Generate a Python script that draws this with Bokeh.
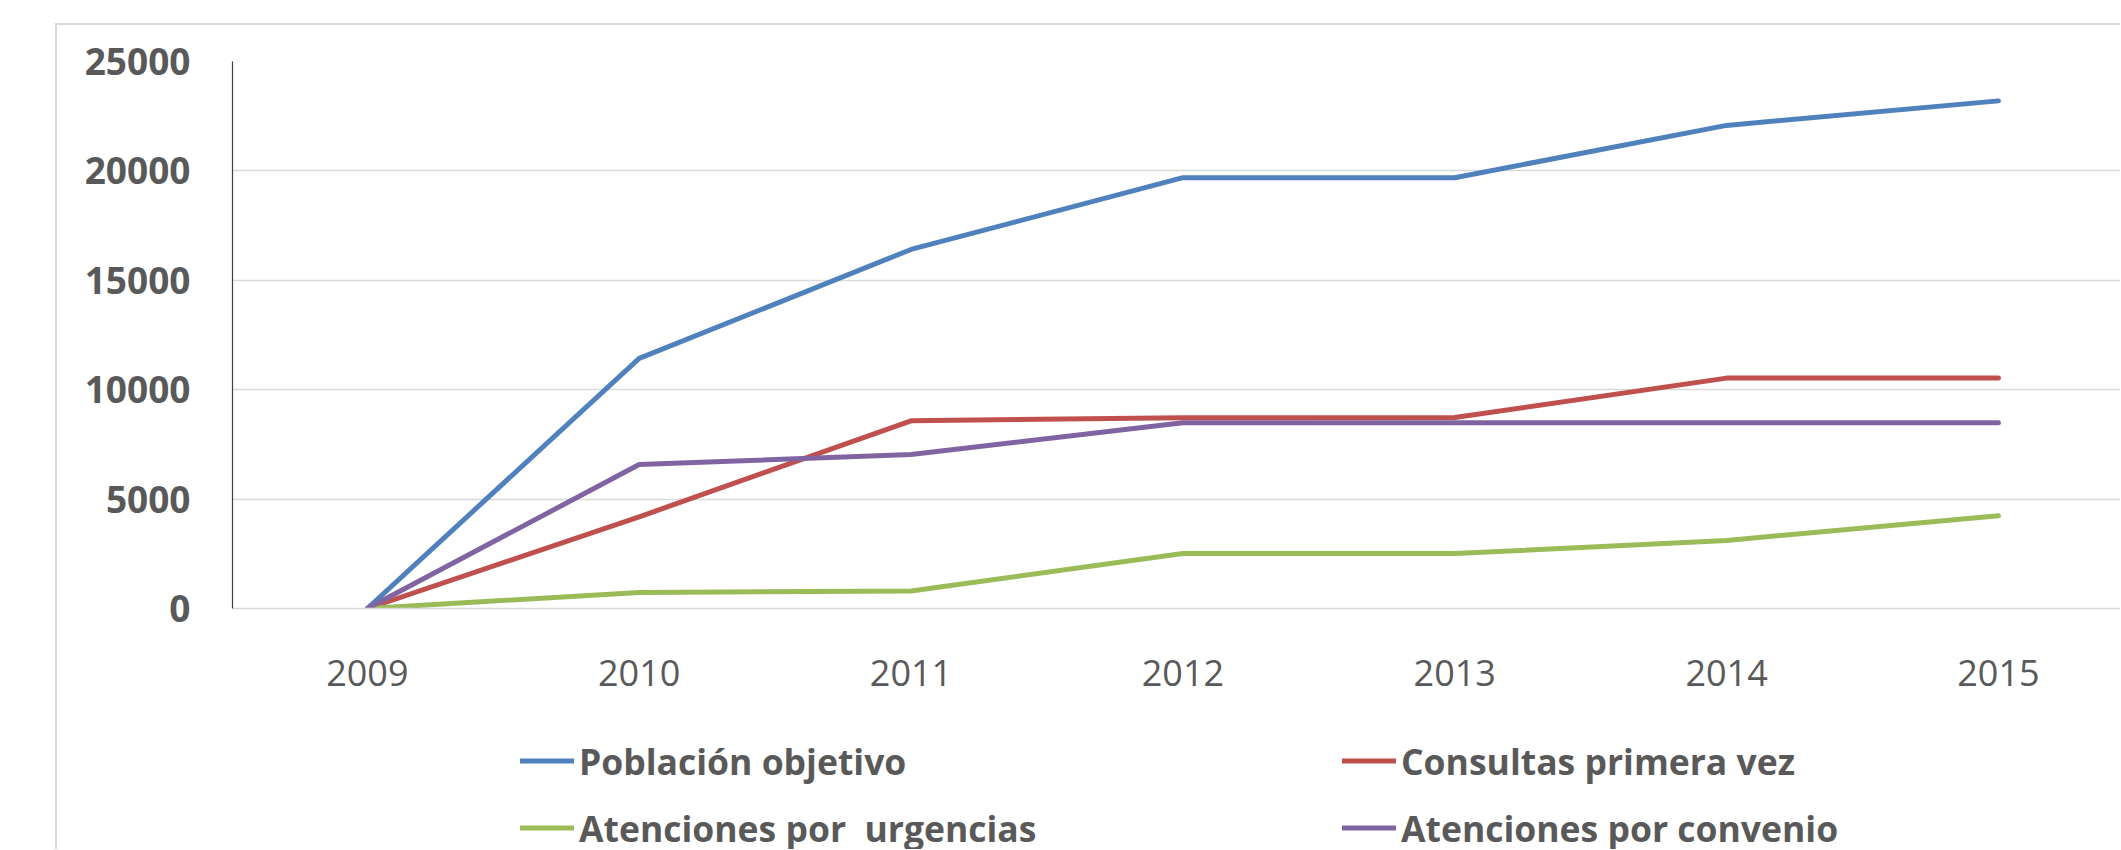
from bokeh.plotting import figure
from bokeh.layouts import column
from bokeh.models import (Range1d, FixedTicker, Legend, LegendItem, BasicTickFormatter)
from bokeh.embed import file_html
from bokeh.resources import INLINE

# ---- data ----
years = [2009, 2010, 2011, 2012, 2013, 2014, 2015]
poblacion_objetivo = [0, 11430, 16410, 19690, 19690, 22080, 23200]
consultas_primera_vez = [0, 4190, 8580, 8720, 8730, 10530, 10530]
atenciones_urgencias = [0, 730, 800, 2510, 2510, 3110, 4240]
atenciones_convenio = [0, 6580, 7040, 8490, 8490, 8490, 8490]
y_ticks = [0, 5000, 10000, 15000, 20000, 25000]
series_names = ["Población objetivo", "Consultas primera vez",
                "Atenciones por  urgencias", "Atenciones por convenio"]

BLUE, RED, GREEN, PURPLE = "#4F81BD", "#C0504D", "#9BBB59", "#8064A2"
colors = [BLUE, RED, GREEN, PURPLE]
series = [poblacion_objetivo, consultas_primera_vez, atenciones_urgencias, atenciones_convenio]
TXT = "#595959"
GRID = "#d9d9d9"
lw = 5

# ---- main chart ----
p = figure(width=2063, height=683, output_backend="svg", toolbar_location=None,
           x_range=Range1d(2008.504, 2015.449), y_range=Range1d(0, 25000),
           min_border_left=175, min_border_right=0, min_border_top=36,
           min_border_bottom=100)
p.outline_line_color = None
p.background_fill_color = "white"
p.border_fill_color = "white"

p.xgrid.grid_line_color = None
p.ygrid.grid_line_color = GRID
p.ygrid.grid_line_width = 1.3
p.ygrid.ticker = FixedTicker(ticks=y_ticks)

p.yaxis.ticker = FixedTicker(ticks=y_ticks)
p.yaxis.formatter = BasicTickFormatter(use_scientific=False)
p.yaxis.axis_line_color = "#404040"
p.yaxis.axis_line_width = 1.2
p.yaxis.major_tick_line_color = None
p.yaxis.minor_tick_line_color = None
p.yaxis.major_label_standoff = 36
p.yaxis.major_label_text_font = "Open Sans"
p.yaxis.major_label_text_font_style = "bold"
p.yaxis.major_label_text_font_size = "37px"
p.yaxis.major_label_text_color = TXT

p.xaxis.ticker = FixedTicker(ticks=years)
p.xaxis.axis_line_color = GRID
p.xaxis.axis_line_width = 1.3
p.xaxis.major_tick_line_color = None
p.xaxis.minor_tick_line_color = None
p.xaxis.major_label_standoff = 45
p.xaxis.major_label_text_font = "Open Sans"
p.xaxis.major_label_text_font_size = "36px"
p.xaxis.major_label_text_color = TXT

for ys, c in zip(series, colors):
    p.line(years, ys, line_color=c, line_width=lw, line_join="round", line_cap="round")

# ---- legend strip ----
q = figure(width=2063, height=141, output_backend="svg", toolbar_location=None,
           x_range=Range1d(0, 1), y_range=Range1d(0, 1),
           min_border_left=0, min_border_right=0, min_border_top=0, min_border_bottom=0)
q.axis.visible = False
q.grid.visible = False
q.outline_line_color = None
q.background_fill_color = "white"
q.border_fill_color = "white"
lr = [q.line(years, ys, line_color=c, line_width=lw, line_cap="round")
      for ys, c in zip(series, colors)]


def make_legend(idx, loc):
    return Legend(items=[LegendItem(label=series_names[i], renderers=[lr[i]]) for i in idx],
                  location=loc, orientation="vertical",
                  label_text_font="Open Sans", label_text_font_style="bold",
                  label_text_font_size="35.5px", label_text_color=TXT,
                  glyph_width=54, glyph_height=67, label_height=67,
                  label_standoff=5, spacing=0, padding=0, margin=0,
                  border_line_color=None, background_fill_alpha=0)


q.add_layout(make_legend([0, 2], (288, -12)), "center")
q.add_layout(make_legend([1, 3], (1110, -12)), "center")

root = column(p, q, spacing=0,
              styles={"position": "relative", "left": "55px", "top": "23px",
                      "border-left": "2.5px solid #d9d9d9",
                      "border-top": "2.5px solid #d9d9d9"})

open("out.html", "w").write(file_html(root, INLINE))
